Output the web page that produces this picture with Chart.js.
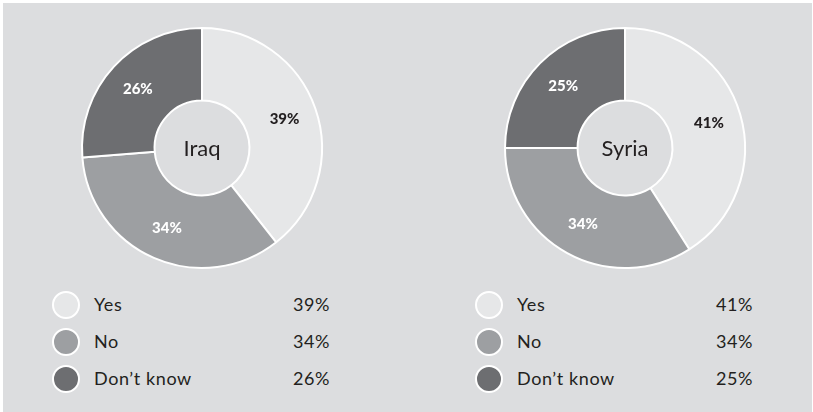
<!DOCTYPE html>
<html lang="en">
<head>
  <meta charset="UTF-8" />
  <title>Iraq / Syria</title>
  <script src="https://cdn.jsdelivr.net/npm/chart.js@4.4.8/dist/chart.umd.min.js"></script>
  <style>
    body { margin: 0; background: #fff; font-family: 'Lato', 'Open Sans', sans-serif; color: #231f20; }
    .panel { position: absolute; left: 3px; top: 3px; width: 809px; height: 409px; background: #dcdddf; }
    .pie { position: absolute; width: 260px; height: 260px; }
    .legend { position: absolute; width: 300px; }
    .row { position: relative; height: 37px; font-size: 18px; letter-spacing: 0.6px; }
    .dot { position: absolute; left: 0; top: 0; width: 24px; height: 24px; border: 2px solid #fff; border-radius: 50%; }
    .name { position: absolute; left: 42px; top: 2px; }
    .val { position: absolute; right: 0; top: 2px; }
  </style>
</head>
<body>
  <div class="panel"></div>
  <div class="pie" style="left:72px;top:18px"><canvas id="pie0"></canvas></div>
  <div class="pie" style="left:495px;top:18px"><canvas id="pie1"></canvas></div>
  <div class="legend" id="legend0" style="left:52px;top:291px;width:278px"></div>
  <div class="legend" id="legend1" style="left:475px;top:291px;width:278px"></div>

  <script>
    const answers = ['Yes', 'No', 'Don\u2019t know'];
    const countries = ['Iraq', 'Syria'];
    const iraqValues = [39, 34, 26];
    const syriaValues = [41, 34, 25];
    const sliceColors = ['#e6e7e8', '#9d9fa2', '#6d6e71'];
    const labelColors = ['#231f20', '#ffffff', '#ffffff'];

    // percentage labels inside each slice + country name in the hole
    const pieText = {
      id: 'pieText',
      afterDatasetsDraw(chart) {
        const ctx = chart.ctx;
        const meta = chart.getDatasetMeta(0);
        const values = chart.data.datasets[0].data;
        ctx.save();
        ctx.textAlign = 'center';
        ctx.textBaseline = 'middle';
        meta.data.forEach((arc, i) => {
          const p = arc.getProps(['x', 'y', 'startAngle', 'endAngle', 'innerRadius', 'outerRadius'], true);
          const mid = (p.startAngle + p.endAngle) / 2;
          const r = p.innerRadius + (p.outerRadius - p.innerRadius) * 0.55;
          ctx.font = '900 15px Lato, sans-serif';
          ctx.fillStyle = labelColors[i];
          ctx.fillText(values[i] + '%', p.x + Math.cos(mid) * r, p.y + Math.sin(mid) * r);
        });
        const c = meta.data[0];
        ctx.font = '22px Lato, sans-serif';
        ctx.fillStyle = '#231f20';
        ctx.fillText(chart.options.plugins.centerName, c.x, c.y + 1);
        ctx.restore();
      }
    };

    function drawPie(id, name, values) {
      new Chart(document.getElementById(id), {
        type: 'doughnut',
        data: {
          labels: answers,
          datasets: [{
            data: values,
            backgroundColor: sliceColors,
            borderColor: '#ffffff',
            borderWidth: 2
          }]
        },
        options: {
          responsive: true,
          maintainAspectRatio: false,
          animation: false,
          radius: 120,
          cutout: 51,
          plugins: {
            legend: { display: false },
            tooltip: { enabled: false },
            centerName: name
          }
        },
        plugins: [pieText]
      });
    }

    function drawLegend(id, values) {
      const box = document.getElementById(id);
      answers.forEach((a, i) => {
        const row = document.createElement('div');
        row.className = 'row';
        row.innerHTML = '<span class="dot" style="background:' + sliceColors[i] + '"></span>' +
          '<span class="name">' + a + '</span><span class="val">' + values[i] + '%</span>';
        box.appendChild(row);
      });
    }

    drawPie('pie0', countries[0], iraqValues);
    drawPie('pie1', countries[1], syriaValues);
    drawLegend('legend0', iraqValues);
    drawLegend('legend1', syriaValues);
  </script>
</body>
</html>
